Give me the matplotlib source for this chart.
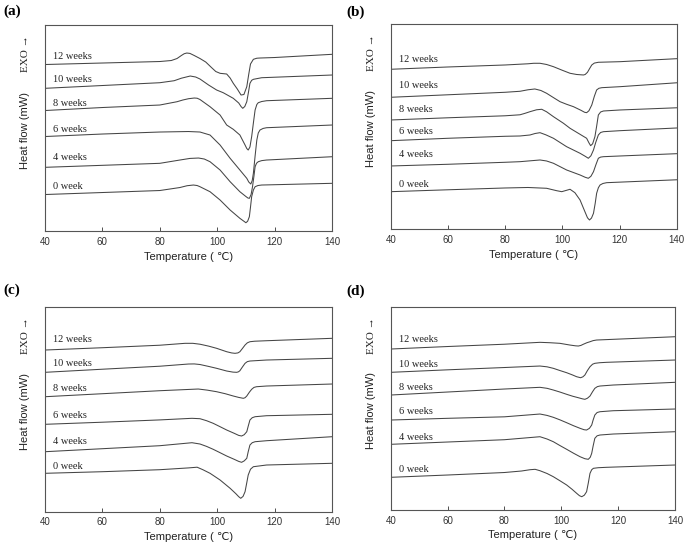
import matplotlib

matplotlib.use('Agg')
import matplotlib.pyplot as plt

# DSC curves, (temperature degC, heat flow in arbitrary units)
weeks = ["12 weeks", "10 weeks", "8 weeks", "6 weeks", "4 weeks", "0 week"]

a_12 = [(40, 166.5), (60, 168), (80, 169.5), (84, 170.5), (86, 172.5), (87.5, 175.5), (88.5, 177.3), (89.4, 178),
        (90.5, 177.6), (92, 175.5), (94, 172.5), (96, 169), (98, 163.5), (99.5, 159.5), (101, 157.7),
        (103.3, 157), (104.5, 153), (105.6, 147.7), (107, 142), (108.3, 136), (109.3, 136.5), (110.3, 144.3),
        (111, 157), (111.6, 167), (112.6, 171.7), (113.8, 172.8), (114.9, 173), (120, 173.5), (140, 176.7)]
a_10 = [(40, 142.7), (60, 145.5), (80, 148.3), (85, 150.3), (87.5, 152.8), (90.6, 155), (92.5, 154), (94, 152),
        (97, 146), (99.8, 141), (102.1, 138.3), (105.6, 132.7), (107.5, 128), (108.3, 124.5), (108.9, 122.7),
        (109.6, 124.5), (110.3, 129.3), (110.9, 139), (111.4, 147.7), (112, 150.7), (112.6, 151.7),
        (115.5, 153.3), (140, 156)]
a_8 = [(40, 120.5), (60, 123.5), (80, 126), (86, 129.3), (88, 131), (90, 132.3), (92, 133), (93, 132.8),
       (94, 131.5), (97.5, 124.3), (101, 116), (103.3, 106), (105.6, 101.7), (107.9, 96), (109.7, 86),
       (110.3, 82.5), (110.8, 81), (111.4, 84), (112, 94.3), (112.6, 108), (113.2, 121), (113.8, 126.5),
       (114.3, 128.3), (115.5, 129.5), (117.2, 130.3), (140, 132.7)]
a_6 = [(40, 94.5), (60, 97), (80, 99), (90, 99.5), (94, 99), (97.5, 96), (101, 86), (104.5, 72.7), (107.9, 61),
       (110.3, 52.7), (111, 49), (111.7, 47), (112.2, 50.5), (112.6, 57.7), (113.2, 75), (113.8, 91),
       (114.3, 98), (114.9, 101), (116, 102.6), (117.2, 103.3), (140, 106)]
a_4 = [(40, 63.7), (60, 65.7), (80, 67.7), (87, 71), (90.5, 72.6), (93.5, 73), (95.5, 72), (97.5, 69.3),
       (101, 61), (104.5, 49.3), (107.9, 39.3), (110, 34.5), (110.7, 33), (111.2, 32.7), (111.8, 36.5),
       (112.3, 44.3), (112.8, 55), (113.2, 64.3), (113.7, 67.8), (114.3, 69.3), (115.5, 70.4), (117.2, 71),
       (140, 74.3)]
a_0 = [(40, 36.5), (60, 38.5), (80, 40.5), (87, 43.5), (89.5, 45.3), (91.7, 46), (93, 45.5), (94, 44.3),
       (97.5, 39.3), (101, 31), (104.5, 21), (107.9, 12.7), (110, 8.3), (110.6, 9.8), (111.2, 14.3),
       (111.6, 24), (112, 34.3), (112.6, 41), (113.2, 44.3), (114.2, 45.5), (115.5, 46), (140, 47.7)]

b_12 = [(40, 160), (60, 162.3), (80, 164.3), (88, 165.5), (90, 166), (92.2, 166), (94.5, 164.8), (96.9, 162.6),
        (100, 159), (102.7, 156), (105, 154.8), (107.4, 154.3), (108, 154.8), (108.8, 157), (109.5, 160.5),
        (110.3, 164.3), (111.2, 166.2), (112.6, 167), (120.2, 167.6), (140, 170.6)]
b_10 = [(40, 132), (60, 134.5), (80, 137), (85.2, 138), (88, 139.5), (90.4, 140.3), (92.5, 138.8), (94.5, 136),
        (97, 131.5), (99.2, 127.6), (101.5, 125), (103.9, 122.6), (106.5, 119), (107.8, 117), (108.5, 116.6),
        (109.3, 118.5), (110.3, 124.3), (111.2, 133), (112, 139.3), (112.8, 141), (113.8, 141.6),
        (120.2, 142.6), (140, 146.5)]
b_8 = [(40, 109.3), (60, 111.5), (80, 113.5), (85.2, 114.5), (87, 116), (88.7, 117.6), (91, 119.5), (92.8, 120),
       (94.5, 117.5), (96.9, 112.6), (100.4, 106), (102.7, 101), (105.6, 96), (108.5, 91), (109.3, 86.5),
       (109.9, 83.6), (110.6, 85.5), (111.4, 92.6), (112, 103), (112.6, 114.3), (113.4, 117.3), (114.4, 118.3),
       (120.2, 119.3), (140, 121.5)]
b_6 = [(40, 88.6), (60, 91), (80, 93), (85.2, 93.3), (88.7, 94.3), (90.5, 95.8), (92.2, 96.6), (94.2, 94.5),
       (96.9, 91), (101.5, 82.6), (106.2, 76), (108, 73), (109.1, 71), (110, 73.5), (110.9, 79.3), (111.7, 87),
       (112.6, 94.3), (113.4, 96.8), (114.4, 97.6), (120.2, 98.6), (140, 101.3)]
b_4 = [(40, 63.3), (60, 65), (80, 67), (85.2, 67.6), (92.2, 69.3), (94.5, 68.3), (96.9, 66), (101.5, 59.3),
       (106.2, 54.3), (108, 52), (109.1, 51), (110, 53), (110.9, 57.6), (111.8, 65), (112.6, 71), (113.4, 72.2),
       (114.4, 72.6), (120.2, 73.3), (140, 75.6)]
b_0 = [(40, 37.6), (60, 39.5), (80, 41.3), (88, 41.8), (94.5, 41), (98, 38.6), (99.8, 37.6), (101.5, 39),
       (102.7, 40), (104.4, 36.6), (106.2, 29.3), (107.9, 17.6), (108.8, 11.5), (109.5, 9.3), (110.2, 11.2),
       (110.9, 16), (111.5, 26), (112, 36), (112.6, 41.5), (113.2, 44.3), (114.2, 45.8), (115.5, 46.6),
       (140, 49.5)]

c_12 = [(40, 161.7), (60, 164), (80, 166.5), (88.8, 168.4), (91.5, 168.4), (94, 167.5), (97, 165.6),
        (99.8, 163.4), (103.3, 160), (105, 158.8), (106.2, 158.4), (107.2, 158.8), (107.9, 160), (108.8, 163.3),
        (109.7, 166.7), (110.5, 168.9), (111.4, 170), (113, 170.5), (117.2, 171), (140, 173.4)]
c_10 = [(40, 139.4), (60, 142.5), (80, 145.5), (90, 147.7), (92, 147.8), (94, 147.2), (97, 145.3), (99.8, 143.4),
        (103.3, 140.7), (105.5, 139.6), (106.8, 139.4), (107.4, 139.9), (107.9, 141), (108.8, 144.8),
        (109.7, 148.4), (110.5, 150.1), (111.4, 150.7), (117.2, 151.7), (140, 153.4)]
c_8 = [(40, 115), (60, 118), (80, 121), (93.4, 122.7), (96.5, 121.6), (99.8, 120), (102.8, 118), (105.6, 115.7),
       (107.5, 114.3), (109.1, 113.4), (109.7, 114), (110.3, 115.7), (111.2, 119.5), (112, 122.4),
       (112.8, 124.3), (113.7, 125), (117.2, 125.7), (140, 127.7)]
c_6 = [(40, 87.4), (60, 89.5), (80, 91.8), (91.2, 93.4), (94, 93), (96.3, 91), (98.6, 88.4), (101, 85),
       (103.3, 81.7), (106, 78.3), (107.5, 76.3), (108.5, 75.7), (109.4, 77), (110.3, 80), (110.8, 85.5),
       (111.4, 91.7), (112.2, 94), (113.2, 95), (117.2, 96), (140, 97.4)]
c_4 = [(40, 60), (60, 63), (80, 66), (91.2, 69), (94, 67.7), (96.3, 65.3), (98.6, 62.4), (101, 59), (103.3, 55.7),
       (106, 52.3), (107.5, 50.3), (108.5, 49.4), (109.4, 50.8), (110.3, 53.4), (110.8, 60), (111.4, 66.7),
       (112.2, 69), (113.2, 70), (117.2, 71), (140, 75)]
c_0 = [(40, 38.4), (60, 40), (80, 42), (90, 43.8), (93, 44.5), (95, 42), (97.5, 38.4), (101, 31.7), (104.5, 23.4),
       (106.5, 18), (107.5, 15), (108.2, 13.4), (109, 15.3), (109.7, 20), (110.3, 29), (110.8, 36.7),
       (111.6, 42.5), (112.6, 45), (117.2, 46.7), (140, 48.4)]

d_12 = [(40, 161), (60, 163.5), (80, 165.8), (92.5, 167.7), (96, 167.3), (99.5, 166.7), (103, 165), (105, 164.2),
        (106, 164), (106.9, 164.6), (107.7, 165.7), (109, 167.3), (110.1, 168.3), (111.2, 169.4), (112.4, 170),
        (140, 173.3)]
d_10 = [(40, 137.7), (60, 140.2), (80, 142.5), (92.5, 144), (95, 143.2), (97.2, 141.7), (99.5, 139.5),
        (101.9, 137.3), (104, 135), (105.4, 133.3), (106.8, 132.3), (107.6, 133.2), (108.3, 135), (109.2, 139.5),
        (110.1, 143.3), (111, 145.8), (111.8, 146.7), (113.5, 147.3), (115.9, 147.7), (140, 150)]
d_8 = [(40, 115), (60, 118), (80, 121), (92.5, 122.7), (95, 121.7), (97.2, 120), (99.5, 118), (101.9, 115.7),
       (104, 113.8), (106, 112.3), (107.4, 111.2), (108.3, 110.7), (109.2, 111.8), (110.1, 114), (111, 118.3),
       (111.8, 121.7), (112.7, 123.4), (113.6, 124), (118.3, 125), (140, 127.7)]
d_6 = [(40, 90), (60, 91.7), (80, 93.2), (92.5, 96), (95, 94.6), (97.2, 92.7), (99.5, 90.2), (101.9, 87.3),
       (104.3, 84.3), (106.6, 81.7), (108, 80.3), (108.9, 80), (109.9, 81.7), (110.7, 85), (111.2, 90),
       (111.8, 95), (112.6, 97.5), (113.6, 98.3), (118.3, 99.3), (140, 101)]
d_4 = [(40, 65.7), (60, 68), (80, 70.3), (92.5, 73.3), (95, 71), (97.2, 68.3), (99.5, 64.5), (101.9, 60.7),
       (104.3, 56.8), (106.6, 53.3), (108.3, 51.3), (109.5, 50.7), (110.2, 52.8), (110.7, 56.7), (111.2, 64),
       (111.8, 71.7), (112.6, 74.2), (113.6, 75), (118.3, 76), (140, 78.3)]
d_0 = [(40, 32.7), (60, 35), (80, 37.5), (86, 39), (89, 40.3), (90.8, 40.7), (92.5, 39.3), (95, 36.5),
       (97.2, 33.3), (99.5, 29.3), (101.9, 25), (103.8, 20.7), (105.4, 16.7), (106.4, 14.3), (107.2, 13.3),
       (108.1, 14.8), (108.9, 18.3), (109.5, 27), (110.1, 36.7), (110.7, 40.3), (111.3, 41.7), (113, 42.3),
       (115.9, 42.7), (140, 45)]

# label heights (same units as the curves)
a_lab = [175, 152, 127.7, 102, 73.3, 45]
b_lab = [170, 143.6, 119.3, 97.6, 74.3, 45]
c_lab = [172.4, 148.4, 123.4, 96.7, 70, 45]
d_lab = [170.7, 146, 122.7, 98.3, 72.7, 40.7]

panels = [
    ("(a)", [a_12, a_10, a_8, a_6, a_4, a_0], a_lab, [0.0657, 0.5761, 0.419, 0.378], 206, (12, 11)),
    ("(b)", [b_12, b_10, b_8, b_6, b_4, b_0], b_lab, [0.5704, 0.5793, 0.4175, 0.3767], 205.3, (356, 12)),
    ("(c)", [c_12, c_10, c_8, c_6, c_4, c_0], c_lab, [0.0657, 0.0611, 0.419, 0.3761], 205, (12, 290)),
    ("(d)", [d_12, d_10, d_8, d_6, d_4, d_0], d_lab, [0.5704, 0.0642, 0.415, 0.373], 203.3, (356, 291)),
]

sans = ['Liberation Sans', 'DejaVu Sans']
serif = ['Liberation Serif', 'DejaVu Serif']
lc = '#454545'

fig = plt.figure(figsize=(6.85, 5.45), dpi=100)

for tag, curves, labh, rect, ytop, tagpos in panels:
    ax = fig.add_axes(rect)
    for c in curves:
        t = [p[0] for p in c]
        h = [p[1] for p in c]
        ax.plot(t, h, color=lc, lw=0.75, solid_joinstyle='round')
    for name, yy in zip(weeks, labh):
        ax.text(42.8, yy, name, family=serif, fontsize=7.5, color='#222222', ha='left', va='center')
    ax.set_xlim(40, 140)
    ax.set_ylim(0, ytop)
    ax.set_xticks([40, 60, 80, 100, 120, 140])
    ax.set_yticks([])
    ax.tick_params(axis='x', direction='in', length=3, width=0.6, labelsize=7, colors='#333333', pad=4)
    for lab in ax.get_xticklabels():
        lab.set_family(sans)
    for sp in ax.spines.values():
        sp.set_color('#555555')
        sp.set_linewidth(0.8)
    ax.text(0.5, -0.125, "Temperature ( \u2103)", transform=ax.transAxes, ha='center', va='center',
            family=sans, fontsize=8, color='#222222')
    ax.text(-0.068, 0.49, "Heat flow (mW)", transform=ax.transAxes, rotation=90, ha='center', va='center',
            family=sans, fontsize=8, color='#222222')
    ax.text(-0.068, 0.86, "EXO \u2192", transform=ax.transAxes, rotation=90, ha='center', va='center',
            family=serif, fontsize=8, color='#222222')
    fig.text(tagpos[0] / 685, 1 - tagpos[1] / 545, tag, family=serif, fontweight='bold', fontsize=11,
             ha='center', va='center')

fig.savefig("out.png", dpi=100)
